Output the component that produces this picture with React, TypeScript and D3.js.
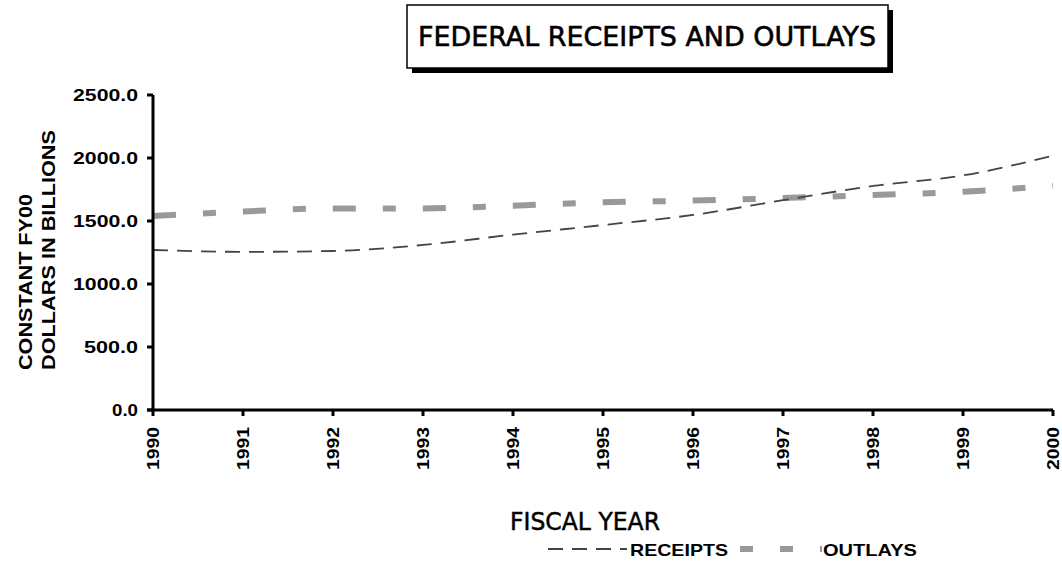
import React from 'react';
import * as d3 from 'd3';

const years = [1990, 1991, 1992, 1993, 1994, 1995, 1996, 1997, 1998, 1999, 2000];
const receipts = [1270, 1255, 1262, 1310, 1392, 1468, 1548, 1665, 1778, 1862, 2018];
const outlays = [1540, 1575, 1600, 1600, 1622, 1648, 1662, 1682, 1706, 1732, 1780];
const yTicks = [0, 500, 1000, 1500, 2000, 2500];

const W = 1062;
const H = 561;
const M = { left: 153, right: 1053, top: 95, bottom: 410 };

export default function App() {
  const x = d3.scaleLinear().domain([1990, 2000]).range([M.left, M.right]);
  const y = d3.scaleLinear().domain([0, 2500]).range([M.bottom, M.top]);

  const ln = d3
    .line<number>()
    .x((_, i) => x(years[i]))
    .y((d) => y(d))
    .curve(d3.curveMonotoneX);

  const bold = 'Liberation Sans, Arial, sans-serif';
  const title = 'DejaVu Sans, Verdana, sans-serif';

  return (
    <svg
      width={W}
      height={H}
      style={{ position: 'absolute', left: 0, top: 0, background: '#fff' }}
    >
      {/* title box with drop shadow */}
      <rect x={412} y={10} width={481} height={63} fill="#000" />
      <rect x={407} y={5} width={481} height={63} fill="#fff" stroke="#000" strokeWidth={1.5} />
      <text
        x={647}
        y={46}
        textAnchor="middle"
        fontFamily={title}
        fontSize={27}
        stroke="#000"
        strokeWidth={0.6}
        textLength={458}
        lengthAdjust="spacingAndGlyphs"
      >
        FEDERAL RECEIPTS AND OUTLAYS
      </text>

      {/* y axis title, both lines start at the same height */}
      <g transform="translate(32,370) rotate(-90)" fontFamily={bold} fontWeight="bold" fontSize={18}>
        <text x={0} y={0} textLength={176} lengthAdjust="spacingAndGlyphs">
          CONSTANT FY00
        </text>
        <text x={0} y={23} textLength={240} lengthAdjust="spacingAndGlyphs">
          DOLLARS IN BILLIONS
        </text>
      </g>

      {/* lines */}
      <path
        d={ln(outlays) ?? ''}
        fill="none"
        stroke="#999"
        strokeWidth={6}
        strokeDasharray="23 27 13 27"
      />
      <path
        d={ln(receipts) ?? ''}
        fill="none"
        stroke="#444"
        strokeWidth={1.8}
        strokeDasharray="15 9"
      />

      {/* y axis */}
      <line x1={M.left} x2={M.left} y1={M.top} y2={M.bottom} stroke="#000" strokeWidth={3} />
      {yTicks.map((t) => (
        <g key={t}>
          <line x1={M.left - 6} x2={M.left} y1={y(t)} y2={y(t)} stroke="#000" strokeWidth={3} />
          <text
            x={M.left - 15}
            y={y(t) + 6}
            textAnchor="end"
            fontFamily={bold}
            fontWeight="bold"
            fontSize={17}
            textLength={t === 0 ? 26 : t < 1000 ? 54 : 65}
            lengthAdjust="spacingAndGlyphs"
          >
            {t.toFixed(1)}
          </text>
        </g>
      ))}

      {/* x axis */}
      <line x1={M.left - 6} x2={M.right} y1={M.bottom} y2={M.bottom} stroke="#000" strokeWidth={3} />
      {years.map((yr) => (
        <g key={yr}>
          <line x1={x(yr)} x2={x(yr)} y1={M.bottom} y2={M.bottom + 6} stroke="#000" strokeWidth={3} />
          <text
            transform={`translate(${x(yr) + 6},${M.bottom + 17}) rotate(-90)`}
            textAnchor="end"
            fontFamily={bold}
            fontWeight="bold"
            fontSize={17}
            textLength={43}
            lengthAdjust="spacingAndGlyphs"
          >
            {yr}
          </text>
        </g>
      ))}

      {/* x axis title */}
      <text
        x={510}
        y={530}
        fontFamily={title}
        fontSize={24}
        stroke="#000"
        strokeWidth={0.5}
        textLength={150}
        lengthAdjust="spacingAndGlyphs"
      >
        FISCAL YEAR
      </text>

      {/* legend */}
      <line x1={548} x2={627} y1={549} y2={549} stroke="#444" strokeWidth={1.8} strokeDasharray="15 9" />
      <text
        x={630}
        y={556}
        fontFamily={bold}
        fontWeight="bold"
        fontSize={17}
        textLength={98}
        lengthAdjust="spacingAndGlyphs"
      >
        RECEIPTS
      </text>
      <line x1={740} x2={822} y1={549} y2={549} stroke="#999" strokeWidth={6} strokeDasharray="13 27 13 27" />
      <text
        x={823}
        y={556}
        fontFamily={bold}
        fontWeight="bold"
        fontSize={17}
        textLength={94}
        lengthAdjust="spacingAndGlyphs"
      >
        OUTLAYS
      </text>
    </svg>
  );
}
